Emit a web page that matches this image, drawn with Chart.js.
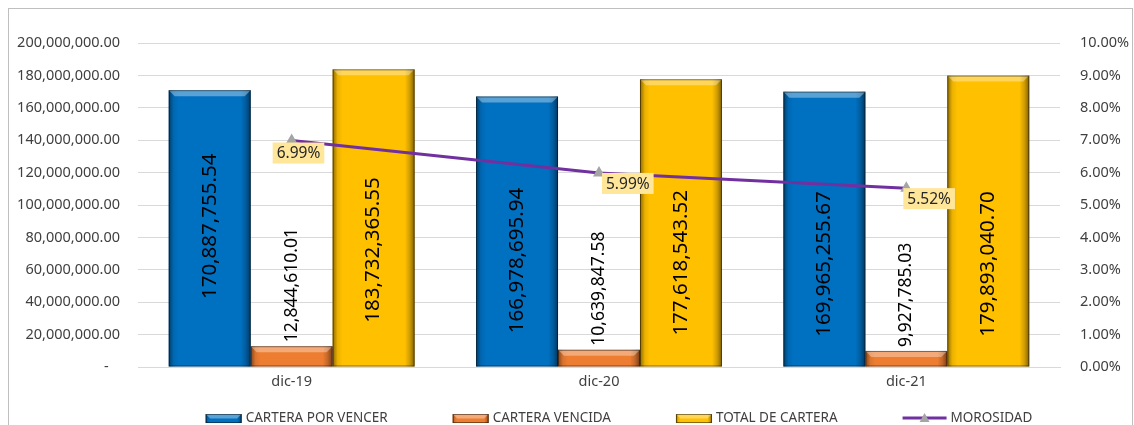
<!DOCTYPE html>
<html>
<head>
<meta charset="utf-8">
<script src="https://cdn.jsdelivr.net/npm/chart.js@4"></script>
<style>
  body { margin: 0; background: #fff; }
  #wrap { position: absolute; left: 8px; top: 8px; width: 1123px; height: 440px; border: 1px solid #BFBFBF; }
  canvas { display: block; }
</style>
</head>
<body>
<div id="wrap"><canvas id="chart" width="1123" height="416"></canvas></div>
<script>
const categories = ['dic-19', 'dic-20', 'dic-21'];
const porVencer = [170887755.54, 166978695.94, 169965255.67];
const vencida = [12844610.01, 10639847.58, 9927785.03];
const totalCartera = [183732365.55, 177618543.52, 179893040.70];
const morosidad = [6.99, 5.99, 5.52];

const FONT = 'Noto Sans';
const fmt = v => v.toLocaleString('en-US', { minimumFractionDigits: 2, maximumFractionDigits: 2 });

function bevel(ctx, left, right, top, bottom) {
    const g = ctx.createLinearGradient(left, 0, right, 0);
    g.addColorStop(0, 'rgba(0,0,0,0.45)');
    g.addColorStop(0.06, 'rgba(0,0,0,0.08)');
    g.addColorStop(0.12, 'rgba(0,0,0,0)');
    g.addColorStop(0.88, 'rgba(0,0,0,0)');
    g.addColorStop(0.94, 'rgba(0,0,0,0.18)');
    g.addColorStop(1, 'rgba(0,0,0,0.5)');
    ctx.fillStyle = g;
    ctx.fillRect(left, top, right - left, bottom - top);
    const h = Math.min(6, (bottom - top) / 2);
    ctx.fillStyle = 'rgba(255,255,255,0.35)';
    ctx.beginPath();
    ctx.moveTo(left, top);
    ctx.lineTo(right, top);
    ctx.lineTo(right - h, top + h);
    ctx.lineTo(left + h, top + h);
    ctx.closePath();
    ctx.fill();
    ctx.strokeStyle = 'rgba(0,0,0,0.45)';
    ctx.lineWidth = 1;
    ctx.strokeRect(left + 0.5, top + 0.5, right - left - 1, bottom - top - 1);
}

const bevelPlugin = {
    id: 'bevel',
    afterDatasetDraw(chart, args) {
        if (args.meta.type !== 'bar') return;
        const ctx = chart.ctx;
        ctx.save();
        args.meta.data.forEach(bar => {
            const p = bar.getProps(['x', 'y', 'base', 'width'], true);
            bevel(ctx, p.x - p.width / 2, p.x + p.width / 2, p.y, p.base);
        });
        ctx.restore();
    }
};

// label nudges (px, downwards) as they were moved by hand in the original
const barLabelShift = { 0: [-2, 29, 35], 2: [32, 40, 43] };
const lineLabelOffset = [[-19, 2], [3, 0], [-3, 0]];

const labelPlugin = {
    id: 'valueLabels',
    afterDatasetsDraw(chart) {
        const ctx = chart.ctx;
        ctx.save();
        ctx.fillStyle = '#000';
        ctx.textBaseline = 'middle';
        [0, 1, 2].forEach(di => {
            const meta = chart.getDatasetMeta(di);
            const values = chart.data.datasets[di].data;
            meta.data.forEach((bar, i) => {
                const p = bar.getProps(['x', 'y', 'base'], true);
                ctx.save();
                if (di === 1) {
                    ctx.font = '17.5px "' + FONT + '"';
                    ctx.translate(p.x, p.y - 4);
                    ctx.rotate(-Math.PI / 2);
                    ctx.textAlign = 'left';
                } else {
                    ctx.font = '20.5px "' + FONT + '"';
                    ctx.translate(p.x, (p.y + p.base) / 2 + barLabelShift[di][i]);
                    ctx.rotate(-Math.PI / 2);
                    ctx.textAlign = 'center';
                }
                ctx.fillText(fmt(values[i]), 0, 0);
                ctx.restore();
            });
        });
        // MOROSIDAD labels
        const meta = chart.getDatasetMeta(3);
        ctx.font = '15.5px "' + FONT + '"';
        ctx.textAlign = 'center';
        meta.data.forEach((pt, i) => {
            const txt = morosidad[i].toFixed(2) + '%';
            const w = ctx.measureText(txt).width + 8;
            const h = 21;
            const left = pt.x + lineLabelOffset[i][0];
            const top = pt.y + lineLabelOffset[i][1];
            ctx.fillStyle = '#FFE699';
            ctx.fillRect(left, top, w, h);
            ctx.fillStyle = '#262626';
            ctx.fillText(txt, left + w / 2, top + h / 2 + 1);
        });
        ctx.restore();
    }
};

// legend drawn at the bottom, same order as the datasets
const legendPlugin = {
    id: 'bottomLegend',
    afterDraw(chart) {
        const ctx = chart.ctx;
        const ds = chart.data.datasets;
        const gap = 65, iconW = 36, lineW = 44, textGap = 4;
        ctx.save();
        ctx.font = '13.5px "' + FONT + '"';
        const widths = ds.map(d => (d.type === 'line' ? lineW : iconW) + textGap + ctx.measureText(d.label).width);
        const total = widths.reduce((a, b) => a + b, 0) + gap * (ds.length - 1);
        let x = (chart.chartArea.left + chart.chartArea.right) / 2 - total / 2 + 20;
        const y = chart.height - 7;
        ctx.textBaseline = 'middle';
        ds.forEach(d => {
            if (d.type === 'line') {
                ctx.strokeStyle = d.borderColor;
                ctx.lineWidth = 3;
                ctx.beginPath(); ctx.moveTo(x, y); ctx.lineTo(x + lineW, y); ctx.stroke();
                ctx.fillStyle = d.pointBackgroundColor;
                const cx = x + lineW / 2;
                ctx.beginPath(); ctx.moveTo(cx, y - 5); ctx.lineTo(cx + 5, y + 4); ctx.lineTo(cx - 5, y + 4); ctx.closePath(); ctx.fill();
                x += lineW + textGap;
            } else {
                ctx.fillStyle = d.backgroundColor;
                ctx.fillRect(x, y - 4, iconW, 9);
                bevel(ctx, x, x + iconW, y - 4, y + 5);
                x += iconW + textGap;
            }
            ctx.fillStyle = '#404040';
            ctx.textAlign = 'left';
            ctx.fillText(d.label, x, y);
            x += ctx.measureText(d.label).width + gap;
        });
        ctx.restore();
    }
};

new Chart(document.getElementById('chart').getContext('2d'), {
    data: {
        labels: categories,
        datasets: [
            { type: 'bar', label: 'CARTERA POR VENCER', data: porVencer, backgroundColor: '#0070C0', order: 1 },
            { type: 'bar', label: 'CARTERA VENCIDA', data: vencida, backgroundColor: '#ED7D31', order: 1 },
            { type: 'bar', label: 'TOTAL DE CARTERA', data: totalCartera, backgroundColor: '#FFC000', order: 1 },
            {
                type: 'line', label: 'MOROSIDAD', data: morosidad, yAxisID: 'y1', order: 0,
                borderColor: '#7030A0', borderWidth: 3, tension: 0,
                pointStyle: 'triangle', pointRadius: 4,
                pointBackgroundColor: '#A5A5A5', pointBorderColor: '#A5A5A5'
            }
        ]
    },
    options: {
        responsive: false,
        animation: false,
        layout: { padding: { top: 34, left: 0, right: 0, bottom: 28 } },
        datasets: { bar: { categoryPercentage: 0.8, barPercentage: 1.0 } },
        scales: {
            x: {
                grid: { display: false, drawTicks: false },
                border: { color: '#D9D9D9' },
                ticks: { color: '#404040', font: { family: FONT, size: 14.5 }, padding: 6 },
                afterFit(scale) { scale.height = 30; }
            },
            y: {
                min: 0, max: 200000000,
                ticks: {
                    stepSize: 20000000,
                    color: '#404040', font: { family: FONT, size: 14.5 }, padding: 18,
                    callback: v => v === 0 ? '-   ' : fmt(v)
                },
                grid: { color: '#D9D9D9', drawTicks: false },
                border: { display: false },
                afterFit(scale) { scale.width = 129; }
            },
            y1: {
                position: 'right', min: 0, max: 10,
                ticks: {
                    stepSize: 1,
                    color: '#404040', font: { family: FONT, size: 14.5 }, padding: 20,
                    callback: v => v.toFixed(2) + '%'
                },
                grid: { display: false, drawTicks: false },
                border: { display: false },
                afterFit(scale) { scale.width = 72; }
            }
        },
        plugins: {
            tooltip: { enabled: false },
            legend: { display: false }
        }
    },
    plugins: [bevelPlugin, labelPlugin, legendPlugin]
});
</script>
</body>
</html>
